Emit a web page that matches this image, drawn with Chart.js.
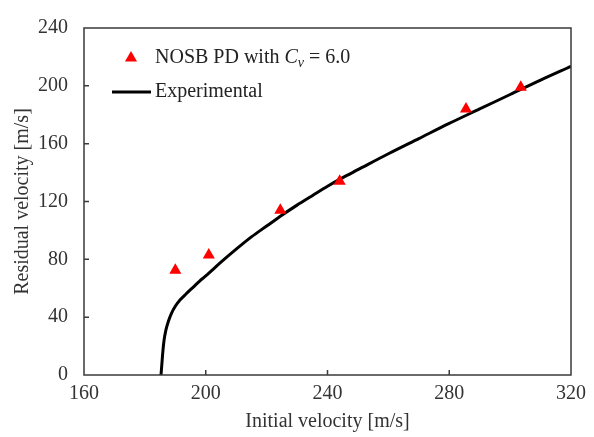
<!DOCTYPE html>
<html>
<head>
<meta charset="utf-8">
<script src="https://cdn.jsdelivr.net/npm/chart.js@4.4.0/dist/chart.umd.min.js"></script>
<style>
html,body{margin:0;padding:0;background:#fff;}
#wrap{position:relative;width:594px;height:437px;}
</style>
</head>
<body>
<div id="wrap"><canvas id="c" width="594" height="437"></canvas></div>
<script>
// Simulation points (NOSB PD, Cv = 6.0)
const pdInitial  = [190, 201, 224.5, 244, 285.5, 303.5];
const pdResidual = [72.5, 83, 114, 134, 184, 199];

// Experimental curve
const expInitial  = [185.3, 185.6, 185.9, 186.3, 186.9, 187.7, 188.7, 190, 191.6, 193.5, 196, 198, 200, 205, 210, 215, 220, 225, 230, 235, 240, 245, 250, 260, 270, 280, 290, 300, 310, 320];
const expResidual = [0, 8, 16, 24, 31, 37, 42.5, 47.5, 52, 56, 61, 65, 68.5, 78, 87, 95.5, 103, 110.5, 117.5, 124, 130.5, 136.5, 142, 153, 163.5, 174, 184, 194, 204, 213.5];

const xTicks = [160, 200, 240, 280, 320];
const yTicks = [0, 40, 80, 120, 160, 200, 240];

const legendLabels = ['NOSB PD with ', 'C', 'v', ' = 6.0', 'Experimental'];

const FONT = '"Liberation Serif", "Times New Roman", serif';
const FS = 20;
const AXIS = '#3a3a3a';

const frame = {
  id: 'frame',
  afterDraw(chart) {
    const {ctx, chartArea: a, scales} = chart;
    ctx.save();
    ctx.strokeStyle = AXIS;
    ctx.lineWidth = 1.5;
    ctx.strokeRect(a.left, a.top, a.right - a.left, a.bottom - a.top);
    // inward tick marks
    ctx.beginPath();
    scales.x.ticks.forEach((t, i) => {
      const px = scales.x.getPixelForTick(i);
      if (px > a.left + 1 && px < a.right - 1) { ctx.moveTo(px, a.bottom); ctx.lineTo(px, a.bottom - 5); }
    });
    scales.y.ticks.forEach((t, i) => {
      const py = scales.y.getPixelForTick(i);
      if (py > a.top + 1 && py < a.bottom - 1) { ctx.moveTo(a.left, py); ctx.lineTo(a.left + 5, py); }
    });
    ctx.stroke();

    // legend
    const lx = 131, ly1 = 58, ly2 = 92, tx = 155;
    ctx.fillStyle = '#ff0000';
    const r = 7;
    ctx.beginPath();
    ctx.moveTo(lx, ly1 - r);
    ctx.lineTo(lx + r * Math.sin(2 * Math.PI / 3), ly1 + r / 2);
    ctx.lineTo(lx - r * Math.sin(2 * Math.PI / 3), ly1 + r / 2);
    ctx.closePath();
    ctx.fill();
    ctx.strokeStyle = '#000';
    ctx.lineWidth = 3;
    ctx.beginPath();
    ctx.moveTo(112, ly2); ctx.lineTo(151, ly2); ctx.stroke();

    ctx.fillStyle = '#222';
    ctx.textBaseline = 'middle';
    ctx.textAlign = 'left';
    let x = tx;
    ctx.font = FS + 'px ' + FONT;
    ctx.fillText(legendLabels[0], x, ly1); x += ctx.measureText(legendLabels[0]).width;
    ctx.font = 'italic ' + FS + 'px ' + FONT;
    ctx.fillText(legendLabels[1], x, ly1); x += ctx.measureText(legendLabels[1]).width;
    ctx.font = 'italic 14px ' + FONT;
    ctx.fillText(legendLabels[2], x, ly1 + 5); x += ctx.measureText(legendLabels[2]).width;
    ctx.font = FS + 'px ' + FONT;
    ctx.fillText(legendLabels[3], x, ly1);
    ctx.fillText(legendLabels[4], tx, ly2);
    ctx.restore();
  }
};

new Chart(document.getElementById('c'), {
  type: 'scatter',
  data: {
    datasets: [
      {
        label: 'Experimental',
        type: 'line',
        data: expInitial.map((v, i) => ({x: v, y: expResidual[i]})),
        borderColor: '#000',
        borderWidth: 3,
        pointRadius: 0,
        fill: false,
        cubicInterpolationMode: 'monotone',
        order: 2
      },
      {
        label: 'NOSB PD with Cv = 6.0',
        data: pdInitial.map((v, i) => ({x: v, y: pdResidual[i]})),
        pointStyle: 'triangle',
        pointRadius: 7,
        backgroundColor: '#ff0000',
        borderColor: '#ff0000',
        borderWidth: 0,
        order: 1
      }
    ]
  },
  options: {
    responsive: false,
    animation: false,
    layout: {padding: {left: 0, top: 20, right: 23, bottom: 0}},
    plugins: {legend: {display: false}, tooltip: {enabled: false}},
    scales: {
      x: {
        type: 'linear', min: 160, max: 320,
        afterBuildTicks: s => { s.ticks = xTicks.map(v => ({value: v})); },
        afterFit: s => { s.height = 62; },
        grid: {display: false, drawTicks: false},
        border: {display: false},
        ticks: {color: '#333', font: {family: FONT, size: FS}, padding: 7, maxRotation: 0},
        title: {display: true, text: 'Initial velocity [m/s]', color: '#333', font: {family: FONT, size: FS}, padding: {top: 3, bottom: 3}}
      },
      y: {
        type: 'linear', min: 0, max: 240,
        afterBuildTicks: s => { s.ticks = yTicks.map(v => ({value: v})); },
        afterFit: s => { s.width = 84; },
        grid: {display: false, drawTicks: false},
        border: {display: false},
        ticks: {color: '#333', font: {family: FONT, size: FS}, padding: 16},
        title: {display: true, text: 'Residual velocity [m/s]', color: '#333', font: {family: FONT, size: FS}, padding: {top: 11, bottom: 11}}
      }
    }
  },
  plugins: [frame]
});
</script>
</body>
</html>
